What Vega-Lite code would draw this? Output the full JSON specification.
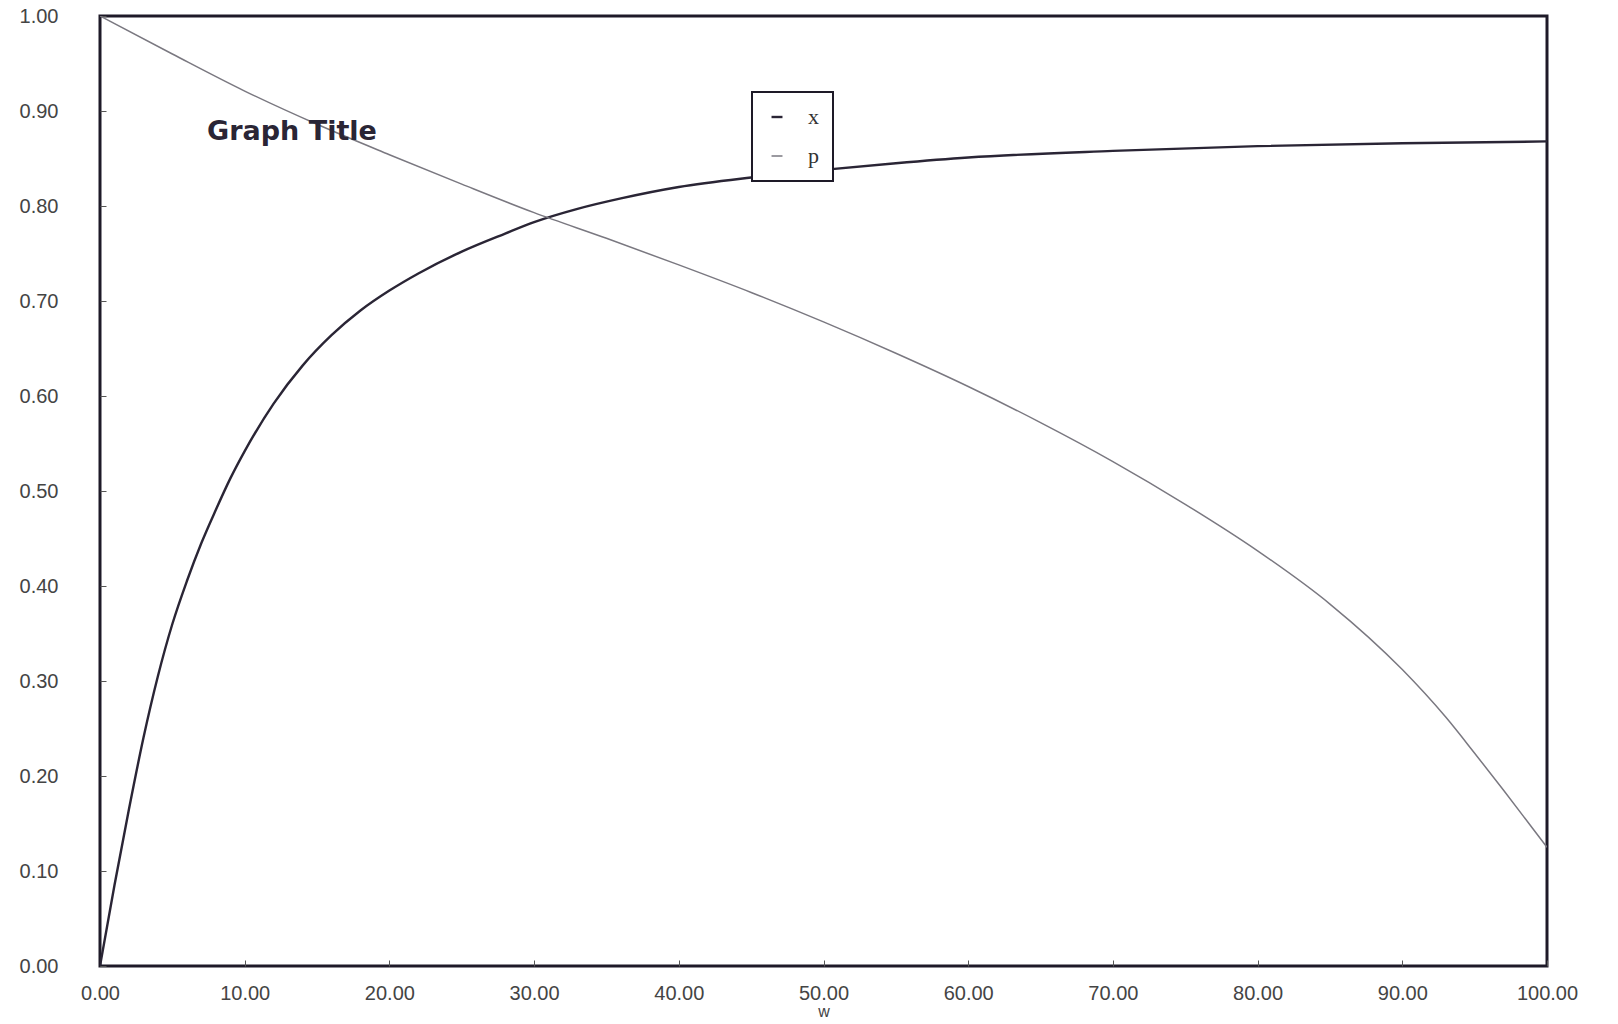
{
  "$schema": "https://vega.github.io/schema/vega-lite/v6.json",
  "width": 1447,
  "height": 950,
  "autosize": {"type": "none"},
  "padding": {"left": 100, "top": 16, "right": 71, "bottom": 58},
  "background": "white",
  "config": {
    "view": {"stroke": "#1e1a28", "strokeWidth": 3},
    "font": "Liberation Sans",
    "legend": {"strokeWidth": 2}
  },
  "datasets": {
    "curves": [
      {"w": 0, "series": "x", "value": 0},
      {"w": 1, "series": "x", "value": 0.085},
      {"w": 2, "series": "x", "value": 0.165},
      {"w": 3, "series": "x", "value": 0.24},
      {"w": 4, "series": "x", "value": 0.305},
      {"w": 5, "series": "x", "value": 0.36},
      {"w": 6, "series": "x", "value": 0.405},
      {"w": 7, "series": "x", "value": 0.445},
      {"w": 8, "series": "x", "value": 0.48},
      {"w": 9, "series": "x", "value": 0.513},
      {"w": 10, "series": "x", "value": 0.542},
      {"w": 12, "series": "x", "value": 0.592},
      {"w": 14, "series": "x", "value": 0.632},
      {"w": 16, "series": "x", "value": 0.664},
      {"w": 18, "series": "x", "value": 0.69},
      {"w": 20, "series": "x", "value": 0.711},
      {"w": 22, "series": "x", "value": 0.729},
      {"w": 25, "series": "x", "value": 0.752},
      {"w": 28, "series": "x", "value": 0.771},
      {"w": 30, "series": "x", "value": 0.783},
      {"w": 33, "series": "x", "value": 0.797},
      {"w": 36, "series": "x", "value": 0.808},
      {"w": 40, "series": "x", "value": 0.82},
      {"w": 45, "series": "x", "value": 0.83},
      {"w": 50, "series": "x", "value": 0.838},
      {"w": 55, "series": "x", "value": 0.845},
      {"w": 60, "series": "x", "value": 0.851},
      {"w": 70, "series": "x", "value": 0.858},
      {"w": 80, "series": "x", "value": 0.863},
      {"w": 90, "series": "x", "value": 0.866},
      {"w": 100, "series": "x", "value": 0.868},
      {"w": 0, "series": "p", "value": 1.0},
      {"w": 5, "series": "p", "value": 0.96},
      {"w": 10, "series": "p", "value": 0.921},
      {"w": 15, "series": "p", "value": 0.886},
      {"w": 20, "series": "p", "value": 0.854},
      {"w": 25, "series": "p", "value": 0.823},
      {"w": 30, "series": "p", "value": 0.793},
      {"w": 35, "series": "p", "value": 0.766},
      {"w": 40, "series": "p", "value": 0.738},
      {"w": 45, "series": "p", "value": 0.709},
      {"w": 50, "series": "p", "value": 0.678},
      {"w": 55, "series": "p", "value": 0.645},
      {"w": 60, "series": "p", "value": 0.61},
      {"w": 65, "series": "p", "value": 0.572},
      {"w": 70, "series": "p", "value": 0.531},
      {"w": 75, "series": "p", "value": 0.486},
      {"w": 80, "series": "p", "value": 0.437},
      {"w": 85, "series": "p", "value": 0.381},
      {"w": 90, "series": "p", "value": 0.312},
      {"w": 93, "series": "p", "value": 0.262},
      {"w": 95, "series": "p", "value": 0.224},
      {"w": 97, "series": "p", "value": 0.185},
      {"w": 99, "series": "p", "value": 0.145},
      {"w": 100, "series": "p", "value": 0.125}
    ],
    "titleText": [
      {"w": 7.4, "value": 0.878, "label": "Graph Title"}
    ]
  },
  "layer": [
    {
      "data": {"name": "curves"},
      "mark": {"type": "line", "interpolate": "monotone", "clip": true},
      "encoding": {
        "x": {
          "field": "w",
          "type": "quantitative",
          "scale": {"domain": [0, 100], "nice": false, "zero": false},
          "axis": {
            "title": "w",
            "titleFont": "Liberation Sans",
            "titleFontSize": 16,
            "titleFontWeight": "normal",
            "titleColor": "#444",
            "titlePadding": 0,
            "values": [0, 10, 20, 30, 40, 50, 60, 70, 80, 90, 100],
            "format": ".2f",
            "labelFont": "Liberation Sans",
            "labelFontSize": 20,
            "labelColor": "#444",
            "labelDx": 12,
            "labelPadding": 23,
            "labelFlush": false,
            "labelOverlap": false,
            "domain": false,
            "grid": false,
            "tickSize": -6,
            "tickColor": "#555",
            "tickWidth": 1
          }
        },
        "y": {
          "field": "value",
          "type": "quantitative",
          "scale": {"domain": [0, 1], "nice": false},
          "axis": {
            "title": null,
            "values": [0, 0.1, 0.2, 0.3, 0.4, 0.5, 0.6, 0.7, 0.8, 0.9, 1.0],
            "format": ".2f",
            "labelFont": "Liberation Sans",
            "labelFontSize": 20,
            "labelColor": "#444",
            "labelPadding": 48,
            "labelFlush": false,
            "labelOverlap": false,
            "domain": false,
            "grid": false,
            "tickSize": -6,
            "tickColor": "#555",
            "tickWidth": 1
          }
        },
        "color": {
          "field": "series",
          "type": "nominal",
          "scale": {"domain": ["x", "p"], "range": ["#2a2535", "#7a7880"]},
          "legend": {
            "title": null,
            "orient": "none",
            "legendX": 652,
            "legendY": 76,
            "symbolType": "stroke",
            "symbolSize": 120,
            "symbolStrokeWidth": 2,
            "labelFont": "Liberation Serif",
            "labelFontSize": 22,
            "labelColor": "#333",
            "labelOffset": 20,
            "rowPadding": 17,
            "padding": 14,
            "strokeColor": "#1e1a28",
            "fillColor": "white"
          }
        },
        "strokeWidth": {
          "field": "series",
          "type": "nominal",
          "scale": {"domain": ["x", "p"], "range": [2.4, 1.5]},
          "legend": null
        }
      }
    },
    {
      "data": {"name": "titleText"},
      "mark": {
        "type": "text",
        "align": "left",
        "baseline": "middle",
        "font": "DejaVu Sans",
        "fontWeight": "bold",
        "fontSize": 27,
        "color": "#2a2535"
      },
      "encoding": {
        "x": {"field": "w", "type": "quantitative"},
        "y": {"field": "value", "type": "quantitative"},
        "text": {"field": "label"}
      }
    }
  ]
}
